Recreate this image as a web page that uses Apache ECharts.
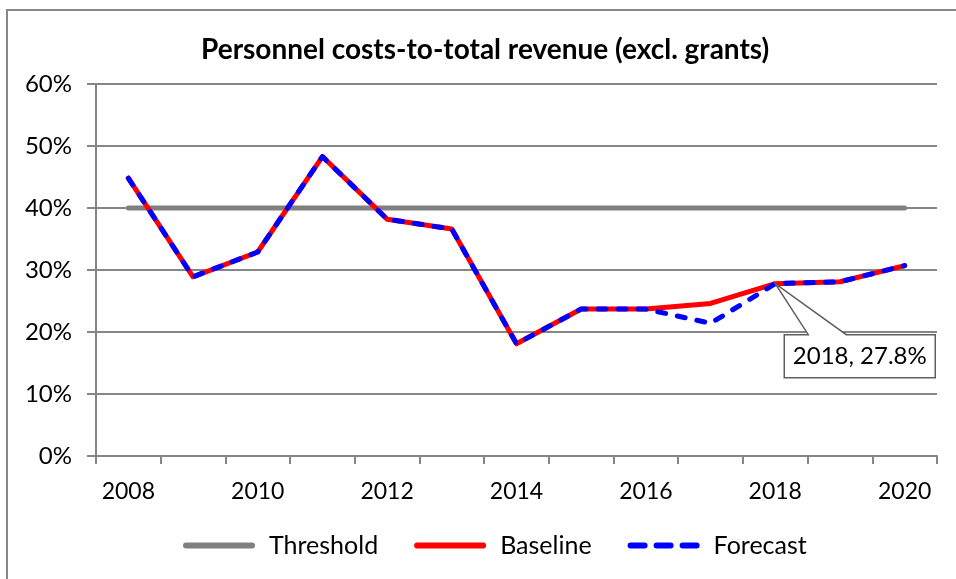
<!DOCTYPE html>
<html>
<head>
<meta charset="utf-8">
<script src="https://cdn.jsdelivr.net/npm/echarts@6/dist/echarts.min.js"></script>
<style>
html,body{margin:0;padding:0;background:#fff;}
#chart{width:956px;height:579px;}
</style>
</head>
<body>
<div id="chart"></div>
<script>
var years = ['2008','2009','2010','2011','2012','2013','2014','2015','2016','2017','2018','2019','2020'];
var threshold = [40,40,40,40,40,40,40,40,40,40,40,40,40];
var baseline = [44.8,28.9,32.9,48.3,38.2,36.6,18.1,23.7,23.7,24.6,27.8,28.1,30.7];
var forecast = [44.8,28.9,32.9,48.3,38.2,36.6,18.1,23.7,23.7,21.4,27.8,28.1,30.7];
var yTicks = [0,10,20,30,40,50,60];
var calloutIndex = 10;

var FONT = 'Lato';
var chart = echarts.init(document.getElementById('chart'), null, {renderer:'canvas'});

var option = {
  backgroundColor: '#ffffff',
  animation: false,
  textStyle: {fontFamily: FONT},
  title: {
    text: 'Personnel costs-to-total revenue (excl. grants)',
    left: 201,
    top: 36,
    padding: 0,
    textStyle: {fontFamily: FONT, fontWeight: 'bold', fontSize: 28, color: '#000'}
  },
  graphic: [{
    type: 'rect', shape: {x: 7, y: 10, width: 1000, height: 1000},
    style: {fill: 'none', stroke: '#878787', lineWidth: 2}, silent: true, z: -1
  }],
  legend: {
    bottom: 21,
    left: 183,
    padding: 0,
    itemWidth: 72,
    itemHeight: 6,
    itemGap: 36,
    textStyle: {fontFamily: FONT, fontSize: 25, color: '#000', padding: [0,0,0,9]},
    data: [
      {name: 'Threshold', icon: 'path://M3,0L69,0A3,3,0,0,1,69,6L3,6A3,3,0,0,1,3,0Z', itemStyle:{color:'#808080'}},
      {name: 'Baseline', icon: 'path://M3,0L69,0A3,3,0,0,1,69,6L3,6A3,3,0,0,1,3,0Z', itemStyle:{color:'#ff0000'}},
      {name: 'Forecast', icon: 'path://M3,0L17,0A3,3,0,0,1,17,6L3,6A3,3,0,0,1,3,0Z M29,0L43,0A3,3,0,0,1,43,6L29,6A3,3,0,0,1,29,0Z M55,0L69,0A3,3,0,0,1,69,6L55,6A3,3,0,0,1,55,0Z', itemStyle:{color:'#0000ff'}}
    ]
  },
  grid: {left: 96, right: 19, top: 84, bottom: 123, containLabel: false},
  xAxis: {
    type: 'category',
    data: years,
    boundaryGap: true,
    axisLine: {lineStyle: {color: '#868686', width: 2}},
    axisTick: {show: true, interval: 0, length: 8, lineStyle: {color: '#868686', width: 2}},
    axisLabel: {interval: 1, fontFamily: FONT, fontSize: 23, color: '#000', margin: 24}
  },
  yAxis: {
    type: 'value',
    min: yTicks[0], max: yTicks[yTicks.length-1], interval: 10,
    axisLine: {show: true, lineStyle: {color: '#868686', width: 2}},
    axisTick: {show: true, length: 9, lineStyle: {color: '#868686', width: 2}},
    axisLabel: {fontFamily: FONT, fontSize: 24, color: '#000', margin: 24, formatter: '{value}%'},
    splitLine: {lineStyle: {color: '#868686', width: 2}}
  },
  series: [
    {
      name: 'Threshold', type: 'line', data: threshold, symbol: 'none',
      lineStyle: {color: '#808080', width: 5, cap: 'round'},
      itemStyle: {color: '#808080'}, z: 2
    },
    {
      name: 'Baseline', type: 'line', data: baseline, symbol: 'none',
      lineStyle: {color: '#ff0000', width: 5, cap: 'round', join: 'round'},
      itemStyle: {color: '#ff0000'}, z: 3
    },
    {
      name: 'Forecast', type: 'line', data: forecast, symbol: 'none',
      lineStyle: {color: '#0000ff', width: 5, type: [8, 12], cap: 'round', join: 'round'},
      itemStyle: {color: '#0000ff'}, z: 4
    },
    {
      name: 'callout', type: 'custom', z: 10,
      data: [[calloutIndex, forecast[calloutIndex]]],
      renderItem: function (params, api) {
        var p = api.coord([api.value(0), api.value(1)]);
        var x = p[0], y = p[1];
        var L = x + 9, R = x + 160, T = y + 51, B = y + 94;
        var pts = [[L,T],[x+33,T],[x,y],[x+71,T],[R,T],[R,B],[L,B]];
        return {
          type: 'group',
          children: [
            {type: 'polygon', shape: {points: pts},
             style: {fill: '#ffffff', stroke: '#5f5f5f', lineWidth: 1.5}},
            {type: 'text', x: (L+R)/2, y: (T+B)/2,
             style: {text: years[calloutIndex] + ', ' + forecast[calloutIndex].toFixed(1) + '%',
                     fontFamily: FONT, fontSize: 24, fill: '#000', align: 'center', verticalAlign: 'middle'}}
          ]
        };
      }
    }
  ]
};
chart.setOption(option);
</script>
</body>
</html>
